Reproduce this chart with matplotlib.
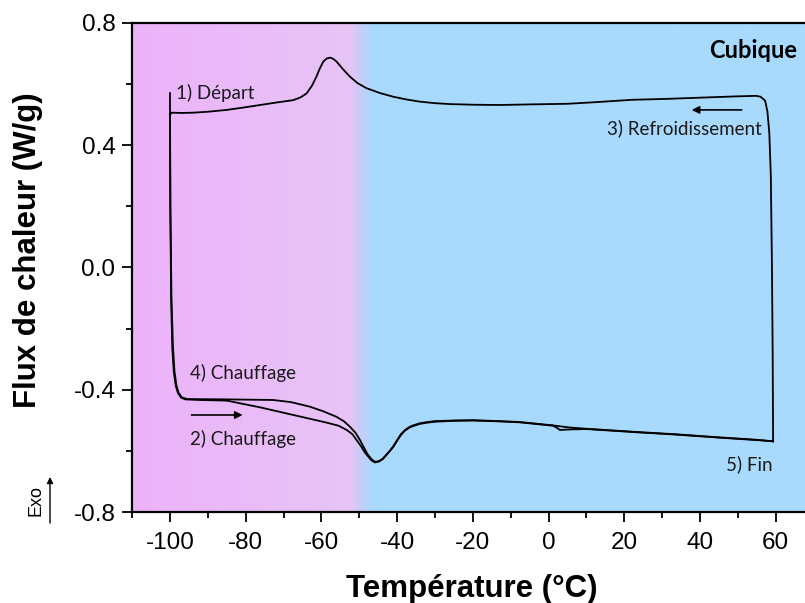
import matplotlib
matplotlib.use("Agg")
import matplotlib.pyplot as plt
import numpy as np
from matplotlib.colors import LinearSegmentedColormap

# ---- data ----
heat1_T = [-100.0, -99.9, -99.7, -99.4, -99.0, -98.5, -97.9, -97.1, -96.0, -92.0, -85.0,
           -76.2, -67.4, -58.6, -55.5, -53.3, -51.8, -50.7, -49.5, -48.5, -47.5, -46.8,
           -45.9, -44.8, -43.8, -43.0, -42.0, -41.0, -40.0, -39.0, -38.0, -37.0, -36.0,
           -34.0, -32.0, -30.0, -25.0, -20.0, -12.9, -7.6, 1.2, 2.2, 3.0, 6.0, 10.0, 24.0,
           33.6, 45.0, 55.0, 59.3]
heat1_Q = [0.57, 0.20, -0.10, -0.26, -0.34, -0.385, -0.41, -0.425, -0.431, -0.433, -0.435,
           -0.457, -0.482, -0.507, -0.517, -0.531, -0.545, -0.564, -0.585, -0.605, -0.62, -0.63,
           -0.637, -0.634, -0.626, -0.615, -0.601, -0.586, -0.566, -0.547, -0.534, -0.525, -0.519,
           -0.511, -0.507, -0.504, -0.501, -0.500, -0.503, -0.506, -0.517, -0.524, -0.531, -0.529, -0.528, -0.539,
           -0.546, -0.556, -0.564, -0.568]

cool_T = [59.3, 59.2, 59.0, 58.7, 58.3, 57.8, 57.2, 56.0, 54.8, 49.0, 40.0, 31.0,
          22.0, 12.0, 5.0, -5.0, -13.0, -20.0, -26.0, -30.0, -34.0, -37.5, -41.0,
          -44.5, -48.1, -50.5, -52.5, -54.3, -56.0, -56.9, -57.7, -58.6, -59.5, -60.4,
          -61.3, -62.5, -63.9, -65.5, -67.4, -72.0, -76.2, -81.0, -85.0, -90.0,
          -93.8, -97.0, -99.5, -100.0]
cool_Q = [-0.568, -0.30, 0.00, 0.30, 0.44, 0.51, 0.545, 0.558, 0.561, 0.559, 0.555, 0.551,
          0.548, 0.540, 0.535, 0.533, 0.531, 0.532, 0.534, 0.537, 0.542, 0.549, 0.558,
          0.570, 0.586, 0.603, 0.624, 0.648, 0.673, 0.682, 0.686, 0.683, 0.673, 0.651,
          0.624, 0.594, 0.569, 0.556, 0.547, 0.539, 0.531, 0.522, 0.515, 0.509,
          0.506, 0.505, 0.506, 0.50]

heat2_T = [-100.0, -99.9, -99.6, -99.2, -98.8, -98.3, -97.7, -96.9, -95.5, -85.0, -72.7,
           -68.0, -63.0, -59.5, -56.0, -54.0, -52.5, -51.0, -49.8, -48.8, -47.8, -46.8,
           -45.9, -44.8, -43.8, -43.0, -42.0, -41.0, -40.0, -39.0, -38.0, -37.0, -36.0,
           -34.0, -32.0, -30.0, -25.0, -20.0, -12.9, -7.6, 1.2, 5.6, 10.0, 24.0,
           33.6, 45.0, 55.0, 59.3]
heat2_Q = [0.50, 0.20, -0.10, -0.26, -0.34, -0.385, -0.41, -0.424, -0.430, -0.431, -0.433,
           -0.440, -0.455, -0.470, -0.488, -0.503, -0.520, -0.540, -0.564, -0.588, -0.610, -0.626,
           -0.635, -0.633, -0.625, -0.614, -0.600, -0.584, -0.564, -0.545, -0.532, -0.523, -0.517,
           -0.509, -0.505, -0.502, -0.500, -0.499, -0.502, -0.505, -0.516, -0.523, -0.527, -0.538,
           -0.545, -0.555, -0.563, -0.568]

xticks = [-100, -80, -60, -40, -20, 0, 20, 40, 60]
yticks = [-0.8, -0.4, 0.0, 0.4, 0.8]
ytick_labels = ["-0.8", "-0.4", "0.0", "0.4", "0.8"]

# ---- figure ----
fig = plt.figure(figsize=(8.05, 6.03), dpi=100)
ax = fig.add_axes([132.1 / 805, (603 - 512.3) / 603, (813.6 - 132.1) / 805, 489.6 / 603])
ax.set_xlim(-110, 70)
ax.set_ylim(-0.8, 0.8)

# background gradient
cmap = LinearSegmentedColormap.from_list(
    "bg",
    [(0.0, "#EDB2FA"), (57.5 / 180, "#E7C4F6"), (60.5 / 180, "#C4CEF9"),
     (63.6 / 180, "#A8DAFD"), (1.0, "#A8DAFD")])
grad = np.linspace(0, 1, 2000).reshape(1, -1)
ax.imshow(grad, cmap=cmap, aspect="auto", extent=(-110, 70, -0.8, 0.8),
          origin="lower", zorder=0, interpolation="bilinear")

lw = 1.3
ax.plot(heat1_T, heat1_Q, color="black", lw=lw, zorder=3)
ax.plot(cool_T, cool_Q, color="black", lw=lw, zorder=3)
ax.plot(heat2_T, heat2_Q, color="black", lw=lw, zorder=3)

# axes styling
tick_font = dict(family="Liberation Sans", size=17.5)
ax.set_xticks(xticks)
ax.set_xticklabels([str(t) for t in xticks], fontdict=tick_font)
ax.set_yticks(yticks)
ax.set_yticklabels(ytick_labels, fontdict=tick_font)
ax.set_xticks(np.arange(-110, 71, 10), minor=True)
ax.set_yticks(np.arange(-0.8, 0.81, 0.2), minor=True)
ax.tick_params(which="major", direction="out", length=7, width=1.3, pad=5)
ax.tick_params(which="minor", direction="out", length=4, width=1.3)
ax.tick_params(axis="x", pad=7)
for s in ["left", "bottom", "top"]:
    ax.spines[s].set_linewidth(1.6)
ax.spines["right"].set_visible(False)

# axis labels
fig.text(471.5 / 805, 1 - 597 / 603, "Température (°C)", ha="center", va="baseline",
         family="Liberation Sans", fontweight="bold", fontsize=22.5)
fig.text(28 / 805, 1 - 250 / 603, "Flux de chaleur (W/g)", ha="center", va="center",
         rotation=90, family="Liberation Sans", fontweight="bold", fontsize=22.5)

# annotations
ann_font = dict(family="Lato", fontsize=13.5, color="#1a1a1a")
ax.text(-98.4, 0.55, "1) Départ", ha="left", va="baseline", **ann_font)
ax.text(56.2, 0.436, "3) Refroidissement", ha="right", va="baseline", **ann_font)
ax.text(-94.7, -0.364, "4) Chauffage", ha="left", va="baseline", **ann_font)
ax.text(-94.7, -0.58, "2) Chauffage", ha="left", va="baseline", **ann_font)
ax.text(59.1, -0.662, "5) Fin", ha="right", va="baseline", **ann_font)
ax.text(65.7, 0.686, "Cubique", ha="right", va="baseline", family="Lato",
        fontweight="bold", fontsize=17, color="black")

arrow_kw = dict(arrowstyle="-|>", color="black", lw=1.2, mutation_scale=11,
                shrinkA=0, shrinkB=0)
ax.annotate("", xy=(37.8, 0.515), xytext=(51.0, 0.515), arrowprops=arrow_kw)
ax.annotate("", xy=(-80.8, -0.482), xytext=(-94.3, -0.482), arrowprops=arrow_kw)

# Exo marker
fig.text(36 / 805, 1 - 501 / 603, "Exo", ha="center", va="center", rotation=90,
         family="Liberation Sans", fontsize=13)
ax.annotate("", xy=(50, 603 - 477), xytext=(50, 603 - 523), xycoords="figure pixels",
            textcoords="figure pixels", annotation_clip=False,
            arrowprops=dict(arrowstyle="-|>", color="black", lw=1.0, mutation_scale=9,
                            shrinkA=0, shrinkB=0))

fig.savefig("out.png", dpi=100)
